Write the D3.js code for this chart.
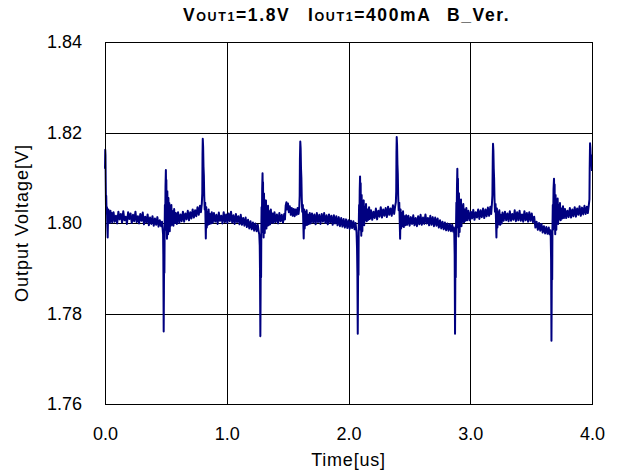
<!DOCTYPE html>
<html>
<head>
<meta charset="utf-8">
<script src="https://cdn.jsdelivr.net/npm/d3@7"></script>
<style>
  body { margin: 0; background: #fff; }
  svg { display: block; font-family: Arial, "Liberation Sans", sans-serif; }
</style>
</head>
<body>
<svg id="chart" width="617" height="475"></svg>
<script>
// time [us], output voltage [V]
const waveform = [
  // start
  [0.000,1.8120],[0.002,1.8162],[0.004,1.8150],[0.006,1.8090],[0.008,1.8040],[0.010,1.8060],[0.013,1.8020],[0.016,1.8035],
  [0.019,1.7990],[0.022,1.7968],[0.025,1.8015],[0.028,1.8030],[0.032,1.8002],[0.036,1.8026],[0.040,1.8000],[0.045,1.8027],
  [0.050,1.8004],[0.055,1.8022],[0.060,1.8001],
  [0.070,1.8024],[0.080,1.8003],[0.090,1.8016],[0.100,1.7999],[0.110,1.8025],[0.120,1.8008],[0.130,1.8020],[0.140,1.8001],
  [0.150,1.8026],[0.160,1.8006],[0.170,1.8014],[0.180,1.7998],[0.190,1.8024],[0.200,1.8009],[0.210,1.8021],[0.220,1.8000],
  [0.230,1.8018],[0.240,1.8004],[0.250,1.8025],[0.260,1.8002],[0.270,1.8015],[0.280,1.7999],[0.290,1.8020],[0.300,1.8005],
  [0.310,1.8023],[0.320,1.7997],[0.330,1.8014],[0.340,1.8001],[0.350,1.8019],[0.360,1.7995],[0.370,1.8012],[0.380,1.7998],
  [0.390,1.8015],[0.400,1.7994],[0.410,1.8010],[0.420,1.7996],[0.430,1.8013],[0.440,1.7992],[0.450,1.8006],[0.460,1.7993],
  [0.468,1.8003],
  // load step 1
  [0.473,1.7988],[0.477,1.7975],[0.479,1.7930],[0.482,1.7760],[0.484,1.7850],[0.486,1.7975],[0.488,1.7890],[0.490,1.7990],
  [0.492,1.8040],[0.494,1.7985],[0.497,1.8080],[0.500,1.8117],[0.502,1.8070],[0.504,1.8095],[0.506,1.8000],[0.509,1.7965],
  [0.512,1.8070],[0.515,1.8010],[0.518,1.7975],[0.521,1.8055],[0.524,1.7995],[0.528,1.8044],[0.532,1.7982],[0.536,1.8036],
  [0.540,1.7994],[0.545,1.8040],[0.550,1.7996],[0.556,1.8026],[0.562,1.7994],[0.568,1.8031],[0.575,1.8000],[0.582,1.8022],
  [0.590,1.7998],
  [0.600,1.8024],[0.610,1.8000],[0.620,1.8019],[0.630,1.8004],[0.640,1.8025],[0.650,1.8003],[0.660,1.8021],[0.670,1.8008],
  [0.680,1.8027],[0.690,1.8006],[0.700,1.8024],[0.710,1.8010],[0.720,1.8030],[0.730,1.8012],[0.740,1.8028],[0.750,1.8015],
  [0.760,1.8035],[0.770,1.8018],[0.780,1.8038],[0.788,1.8024],[0.795,1.8042],
  // release 1
  [0.799,1.8065],[0.801,1.8150],[0.803,1.8186],[0.806,1.8168],[0.809,1.8125],[0.812,1.8105],[0.815,1.8060],[0.819,1.8030],
  [0.823,1.8045],[0.828,1.7966],[0.832,1.8035],[0.836,1.7990],[0.841,1.8024],[0.846,1.7996],[0.851,1.8030],[0.857,1.7998],
  [0.863,1.8020],[0.870,1.7999],[0.877,1.8024],
  [0.885,1.8000],[0.895,1.8022],[0.905,1.8003],[0.915,1.8018],[0.925,1.7998],[0.935,1.8023],[0.945,1.8005],[0.955,1.8016],
  [0.965,1.7999],[0.975,1.8024],[0.985,1.8002],[0.995,1.8019],[1.005,1.8000],[1.015,1.8021],[1.025,1.8004],[1.035,1.8025],
  [1.045,1.8001],[1.055,1.8017],[1.065,1.7998],[1.075,1.8020],[1.085,1.8002],[1.095,1.8015],[1.105,1.7997],[1.115,1.8018],
  [1.125,1.7996],[1.135,1.8011],[1.145,1.7994],[1.155,1.8012],[1.165,1.7991],[1.175,1.8007],[1.185,1.7988],[1.195,1.8004],
  [1.205,1.7986],[1.215,1.8001],[1.225,1.7983],[1.235,1.7999],[1.245,1.7982],[1.255,1.7996],[1.262,1.7981],
  // load step 2
  [1.267,1.7975],[1.271,1.7950],[1.273,1.7900],[1.276,1.7750],[1.278,1.7840],[1.280,1.7970],[1.282,1.7880],[1.284,1.7985],
  [1.286,1.8035],[1.288,1.7980],[1.291,1.8075],[1.294,1.8110],[1.296,1.8065],[1.298,1.8090],[1.300,1.7995],[1.303,1.7968],
  [1.306,1.8065],[1.309,1.8005],[1.312,1.7978],[1.315,1.8046],[1.318,1.7996],[1.322,1.8050],[1.326,1.7988],[1.330,1.8034],
  [1.334,1.7994],[1.339,1.8038],[1.344,1.7995],[1.350,1.8026],[1.356,1.7997],[1.362,1.8030],[1.369,1.8001],[1.376,1.8021],
  [1.384,1.8000],
  [1.392,1.8024],[1.402,1.8002],[1.412,1.8019],[1.422,1.7999],[1.432,1.8022],[1.442,1.8004],[1.452,1.8018],[1.462,1.8001],
  [1.472,1.8020],[1.478,1.8008],[1.484,1.8038],[1.490,1.8046],[1.496,1.8030],[1.503,1.8043],[1.510,1.8024],[1.518,1.8037],
  [1.526,1.8018],[1.534,1.8033],[1.542,1.8016],[1.550,1.8031],[1.558,1.8015],[1.566,1.8030],[1.574,1.8018],[1.582,1.8033],
  [1.590,1.8020],[1.596,1.8036],
  // release 2
  [1.599,1.8060],[1.601,1.8140],[1.604,1.8180],[1.607,1.8165],[1.610,1.8120],[1.613,1.8100],[1.616,1.8055],[1.620,1.8025],
  [1.625,1.8040],[1.632,1.7966],[1.636,1.8030],[1.640,1.7988],[1.645,1.8024],[1.650,1.7995],[1.656,1.8028],[1.662,1.7996],
  [1.668,1.8018],[1.675,1.7998],[1.682,1.8022],
  [1.690,1.7999],[1.700,1.8021],[1.710,1.8001],[1.720,1.8019],[1.730,1.7997],[1.740,1.8022],[1.750,1.8002],[1.760,1.8018],
  [1.770,1.7998],[1.780,1.8020],[1.790,1.8003],[1.800,1.8022],[1.810,1.8000],[1.820,1.8017],[1.830,1.7997],[1.840,1.8019],
  [1.850,1.8001],[1.860,1.8016],[1.870,1.7996],[1.880,1.8017],[1.890,1.7999],[1.900,1.8015],[1.910,1.7995],[1.920,1.8013],
  [1.930,1.7993],[1.940,1.8011],[1.950,1.7992],[1.960,1.8009],[1.970,1.7990],[1.980,1.8008],[1.990,1.7989],[2.000,1.8006],
  [2.010,1.7987],[2.020,1.8005],[2.030,1.7989],[2.040,1.8004],[2.050,1.7986],[2.058,1.8000],[2.064,1.7984],
  // load step 3
  [2.066,1.7980],[2.070,1.7945],[2.073,1.7890],[2.076,1.7755],[2.078,1.7850],[2.080,1.7970],[2.082,1.7885],[2.084,1.7990],
  [2.087,1.8040],[2.089,1.7985],[2.092,1.8070],[2.095,1.8103],[2.097,1.8060],[2.100,1.8088],[2.102,1.8000],[2.105,1.7972],
  [2.108,1.8062],[2.111,1.8008],[2.114,1.7982],[2.117,1.8044],[2.121,1.8001],[2.125,1.8050],[2.129,1.7995],[2.134,1.8036],
  [2.139,1.8006],[2.144,1.8042],[2.150,1.8004],[2.156,1.8030],[2.162,1.8007],[2.169,1.8035],[2.176,1.8009],
  [2.185,1.8028],[2.195,1.8007],[2.205,1.8025],[2.215,1.8011],[2.225,1.8032],[2.235,1.8008],[2.245,1.8027],[2.255,1.8014],
  [2.265,1.8035],[2.275,1.8012],[2.285,1.8030],[2.295,1.8016],[2.305,1.8033],[2.315,1.8013],[2.325,1.8036],[2.335,1.8018],
  [2.345,1.8032],[2.355,1.8016],[2.365,1.8039],[2.375,1.8020],[2.383,1.8037],[2.389,1.8046],
  // release 3
  [2.392,1.8070],[2.394,1.8155],[2.396,1.8190],[2.399,1.8172],[2.402,1.8130],[2.405,1.8108],[2.408,1.8060],[2.412,1.8028],
  [2.417,1.8045],[2.424,1.7965],[2.428,1.8030],[2.432,1.7988],[2.437,1.8022],[2.442,1.7993],[2.448,1.8026],[2.454,1.7991],
  [2.460,1.8015],[2.467,1.7995],[2.474,1.8017],
  [2.482,1.7996],[2.492,1.8016],[2.502,1.7994],[2.512,1.8013],[2.522,1.7998],[2.532,1.8017],[2.542,1.7995],[2.552,1.8011],
  [2.562,1.7993],[2.572,1.8015],[2.582,1.7997],[2.592,1.8018],[2.602,1.7996],[2.612,1.8012],[2.622,1.7998],[2.632,1.8019],
  [2.642,1.7999],[2.652,1.8011],[2.662,1.7995],[2.672,1.8016],[2.682,1.7996],[2.692,1.8013],[2.702,1.7993],[2.712,1.8012],
  [2.722,1.7994],[2.732,1.8010],[2.742,1.7990],[2.752,1.8006],[2.762,1.7988],[2.772,1.8003],[2.782,1.7986],[2.792,1.8001],
  [2.802,1.7984],[2.812,1.7999],[2.822,1.7983],[2.832,1.7998],[2.842,1.7982],[2.852,1.7996],[2.860,1.7981],[2.866,1.7990],
  // load step 4
  [2.869,1.7975],[2.872,1.7930],[2.875,1.7755],[2.877,1.7850],[2.879,1.7972],[2.881,1.7880],[2.883,1.7988],[2.886,1.8045],
  [2.888,1.7990],[2.891,1.8080],[2.894,1.8120],[2.896,1.8072],[2.899,1.8098],[2.901,1.8005],[2.904,1.7970],[2.907,1.8066],
  [2.910,1.8010],[2.913,1.7980],[2.916,1.8050],[2.920,1.7999],[2.924,1.8052],[2.928,1.7993],[2.933,1.8038],[2.938,1.8003],
  [2.943,1.8042],[2.949,1.8002],[2.955,1.8030],[2.961,1.8005],[2.968,1.8033],[2.975,1.8006],
  [2.985,1.8027],[2.995,1.8006],[3.005,1.8025],[3.015,1.8010],[3.025,1.8029],[3.035,1.8007],[3.045,1.8024],[3.055,1.8012],
  [3.065,1.8030],[3.075,1.8009],[3.085,1.8028],[3.095,1.8013],[3.105,1.8032],[3.115,1.8011],[3.125,1.8030],[3.135,1.8015],
  [3.145,1.8034],[3.155,1.8016],[3.165,1.8036],[3.172,1.8020],[3.178,1.8042],
  // release 4
  [3.182,1.8062],[3.185,1.8145],[3.187,1.8175],[3.190,1.8160],[3.193,1.8120],[3.196,1.8098],[3.199,1.8055],[3.203,1.8025],
  [3.208,1.8042],[3.215,1.7968],[3.219,1.8032],[3.223,1.7990],[3.228,1.8024],[3.233,1.7997],[3.239,1.8028],[3.245,1.7996],
  [3.251,1.8018],[3.258,1.7999],[3.265,1.8023],
  [3.275,1.8005],[3.285,1.8025],[3.295,1.8006],[3.305,1.8021],[3.315,1.8004],[3.325,1.8026],[3.335,1.8005],[3.345,1.8020],
  [3.355,1.8007],[3.365,1.8028],[3.375,1.8004],[3.385,1.8024],[3.395,1.8006],[3.405,1.8027],[3.415,1.8005],[3.425,1.8019],
  [3.435,1.8003],[3.445,1.8026],[3.455,1.8006],[3.465,1.8022],[3.475,1.8003],[3.485,1.8024],[3.495,1.8005],[3.505,1.8021],
  [3.515,1.8002],[3.525,1.8014],[3.535,1.7990],[3.545,1.8003],[3.555,1.7985],[3.565,1.8000],[3.575,1.7983],[3.585,1.7998],
  [3.595,1.7979],[3.605,1.7993],[3.615,1.7977],[3.625,1.7991],[3.635,1.7976],[3.645,1.7990],[3.652,1.7975],[3.658,1.7984],
  // load step 5
  [3.661,1.7970],[3.664,1.7920],[3.667,1.7740],[3.669,1.7840],[3.671,1.7965],[3.673,1.7875],[3.675,1.7985],[3.678,1.8040],
  [3.680,1.7985],[3.684,1.8075],[3.688,1.8098],[3.690,1.8060],[3.693,1.8085],[3.695,1.8005],[3.698,1.7975],[3.701,1.8062],
  [3.704,1.8012],[3.707,1.7985],[3.710,1.8050],[3.714,1.8004],[3.718,1.8054],[3.722,1.7998],[3.727,1.8040],[3.732,1.8008],
  [3.737,1.8044],[3.743,1.8006],[3.749,1.8032],[3.755,1.8010],[3.762,1.8037],[3.769,1.8011],
  [3.778,1.8031],[3.788,1.8011],[3.798,1.8027],[3.808,1.8013],[3.818,1.8033],[3.828,1.8012],[3.838,1.8030],[3.848,1.8015],
  [3.858,1.8035],[3.868,1.8014],[3.878,1.8032],[3.888,1.8018],[3.898,1.8037],[3.908,1.8016],[3.918,1.8034],[3.928,1.8019],
  [3.938,1.8038],[3.948,1.8020],[3.958,1.8036],[3.966,1.8022],[3.974,1.8040],[3.979,1.8052],
  // release 5
  [3.981,1.8120],[3.984,1.8176],[3.987,1.8165],[3.990,1.8140],[3.994,1.8150],[3.997,1.8130],[4.000,1.8115]
];

const xTicks = [0, 1, 2, 3, 4];
const yTicks = [1.76, 1.78, 1.80, 1.82, 1.84];
const xDomain = [0, 4];
const yDomain = [1.76, 1.84];

const xTitle = 'Time[us]';
const yTitle = 'Output Voltage[V]';
// title pieces: [big, small, big]
const titleParts = [
  ['V', 'OUT1', '=1.8V'],
  ['I', 'OUT1', '=400mA'],
  ['B_Ver.', '', '']
];

const lineColor = '#000080';

const margin = {top: 42, right: 25, bottom: 71, left: 105};
const width = 617, height = 475;
const svg = d3.select('#chart');

const x = d3.scaleLinear().domain(xDomain).range([margin.left, width - margin.right]);
const y = d3.scaleLinear().domain(yDomain).range([height - margin.bottom, margin.top]);

// grid
const grid = svg.append('g').attr('shape-rendering', 'crispEdges');
grid.selectAll('line.v')
  .data(xTicks)
  .enter().append('line')
  .attr('class', 'v')
  .attr('x1', d => Math.round(x(d)) + 0.5).attr('x2', d => Math.round(x(d)) + 0.5)
  .attr('y1', y.range()[1]).attr('y2', y.range()[0])
  .attr('stroke', '#000');
grid.selectAll('line.h')
  .data(yTicks)
  .enter().append('line')
  .attr('class', 'h')
  .attr('x1', x.range()[0]).attr('x2', x.range()[1])
  .attr('y1', d => Math.round(y(d)) + 0.5).attr('y2', d => Math.round(y(d)) + 0.5)
  .attr('stroke', '#000');

// trace
const line = d3.line()
  .x(d => x(d[0]))
  .y(d => y(d[1]));

svg.append('path')
  .datum(waveform)
  .attr('fill', 'none')
  .attr('stroke', lineColor)
  .attr('stroke-width', 2)
  .attr('stroke-linejoin', 'round')
  .attr('d', line);

// axes (labels only)
const xAxis = svg.append('g')
  .attr('transform', `translate(0,${y.range()[0]})`)
  .call(d3.axisBottom(x).tickValues(xTicks).tickFormat(d3.format('.1f')).tickSize(0).tickPadding(23));
const yAxis = svg.append('g')
  .attr('transform', `translate(${x.range()[0]},0)`)
  .call(d3.axisLeft(y).tickValues(yTicks).tickFormat(d3.format('.2f')).tickSize(0).tickPadding(23));
[xAxis, yAxis].forEach(a => {
  a.select('.domain').remove();
  a.selectAll('text')
    .attr('font-family', 'Arial, "Liberation Sans", sans-serif')
    .attr('font-size', 18)
    .attr('fill', '#000');
});

svg.append('text')
  .attr('x', (x.range()[0] + x.range()[1]) / 2)
  .attr('y', 466)
  .attr('text-anchor', 'middle')
  .attr('font-size', 18)
  .attr('letter-spacing', 0.8)
  .text(xTitle);

svg.append('text')
  .attr('transform', `translate(28,${(y.range()[0] + y.range()[1]) / 2}) rotate(-90)`)
  .attr('text-anchor', 'middle')
  .attr('font-size', 18)
  .attr('letter-spacing', 1)
  .text(yTitle);

// title
const titleX = [183, 308, 447];
titleParts.forEach((p, i) => {
  const t = svg.append('text')
    .attr('x', titleX[i])
    .attr('y', 21)
    .attr('font-weight', 'bold')
    .attr('font-size', 17.5)
    .attr('letter-spacing', 1.6);
  t.append('tspan').text(p[0]);
  if (p[1]) t.append('tspan').attr('font-size', 12.5).text(p[1]);
  if (p[2]) t.append('tspan').text(p[2]);
});

// frame
svg.append('rect')
  .attr('x', x.range()[0] + 0.5)
  .attr('y', y.range()[1] + 0.5)
  .attr('width', x.range()[1] - x.range()[0])
  .attr('height', y.range()[0] - y.range()[1])
  .attr('fill', 'none')
  .attr('stroke', '#000')
  .attr('shape-rendering', 'crispEdges');
</script>
</body>
</html>
